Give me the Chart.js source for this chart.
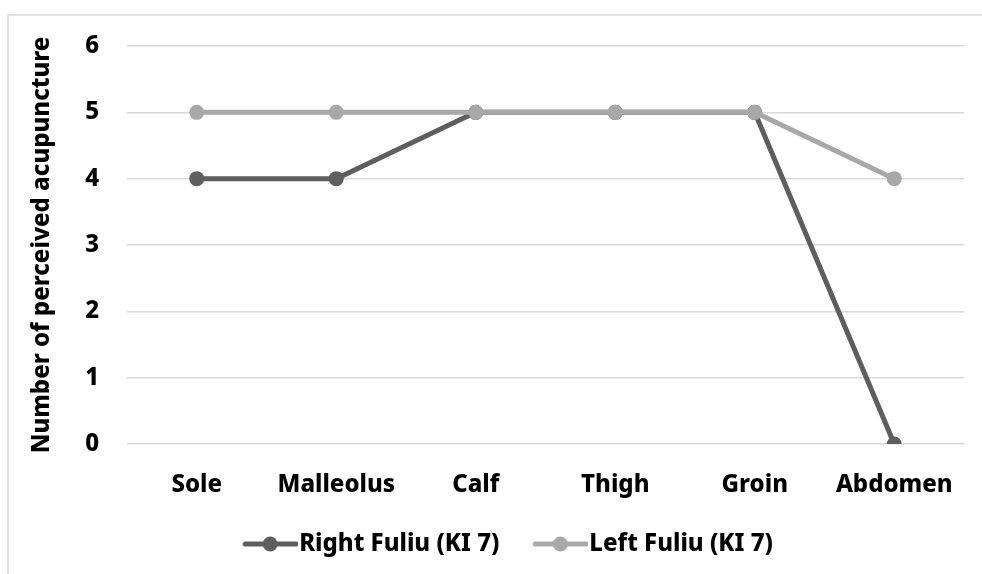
<!DOCTYPE html>
<html>
<head>
<meta charset="utf-8">
<script src="https://cdn.jsdelivr.net/npm/chart.js@4/dist/chart.umd.min.js"></script>
<style>
  html, body { margin: 0; padding: 0; background: #ffffff; }
  #wrap { width: 982px; height: 574px; }
</style>
</head>
<body>
<div id="wrap"><canvas id="c" width="982" height="574"></canvas></div>
<script>
// Body regions along the meridian
const sites = ['Sole', 'Malleolus', 'Calf', 'Thigh', 'Groin', 'Abdomen'];
// Perceived acupuncture points per site
const rightFuliu = [4, 4, 5, 5, 5, 0];
const leftFuliu = [5, 5, 5, 5, 5, 4];
const yTicks = [0, 1, 2, 3, 4, 5, 6];

const DARK = '#5e5e5e';
const LIGHT = '#a8a8a8';
const FONT = "'Noto Sans', 'Open Sans', sans-serif";
const FS = 24;
const FW = 800;

// Legend symbol: a short line with a dot in the middle, placed at the right of the image
function legendSymbol(color) {
  const cv = document.createElement('canvas');
  cv.width = 90; cv.height = 18;
  const g = cv.getContext('2d');
  g.strokeStyle = color;
  g.lineWidth = 5;
  g.lineCap = 'round';
  g.beginPath(); g.moveTo(37, 9); g.lineTo(88, 9); g.stroke();
  g.fillStyle = color;
  g.beginPath(); g.arc(62, 9, 7.5, 0, Math.PI * 2); g.fill();
  return cv;
}

const frame = {
  id: 'frame',
  beforeDraw(chart) {
    const ctx = chart.ctx;
    ctx.save();
    ctx.fillStyle = '#ffffff';
    ctx.fillRect(0, 0, chart.width, chart.height);
    ctx.strokeStyle = '#d9d9d9';
    ctx.lineWidth = 1.5;
    ctx.strokeRect(8, 15, 1200, 800);
    ctx.restore();
  }
};

new Chart(document.getElementById('c'), {
  type: 'line',
  data: {
    labels: sites,
    datasets: [
      {
        label: 'Right Fuliu (KI 7)',
        data: rightFuliu,
        borderColor: DARK,
        backgroundColor: DARK,
        borderWidth: 5,
        pointRadius: 7.5,
        pointBorderWidth: 0,
        pointBackgroundColor: DARK,
        order: 2,
        tension: 0
      },
      {
        label: 'Left Fuliu (KI 7)',
        data: leftFuliu,
        borderColor: LIGHT,
        backgroundColor: LIGHT,
        borderWidth: 5,
        pointRadius: 7.5,
        pointBorderWidth: 0,
        pointBackgroundColor: LIGHT,
        order: 1,
        tension: 0
      }
    ]
  },
  options: {
    responsive: false,
    animation: false,
    devicePixelRatio: 1,
    layout: { padding: { left: 28, right: 18, top: 46, bottom: 8 } },
    plugins: {
      tooltip: { enabled: false },
      legend: {
        position: 'bottom',
        labels: {
          color: '#000000',
          font: { family: FONT, size: FS, weight: FW },
          usePointStyle: true,
          pointStyleWidth: 68,
          boxHeight: 16,
          padding: 10,
          generateLabels(chart) {
            return chart.data.datasets.map((ds, i) => ({
              text: ds.label,
              fontColor: '#000000',
              pointStyle: legendSymbol(ds.borderColor),
              lineWidth: 0,
              strokeStyle: 'transparent',
              fillStyle: ds.borderColor,
              datasetIndex: i,
              hidden: false
            }));
          }
        }
      }
    },
    scales: {
      x: {
        offset: true,
        grid: { display: false, drawTicks: false },
        border: { display: false },
        afterFit(scale) { scale.height = 78; },
        ticks: {
          color: '#000000',
          padding: 27,
          font: { family: FONT, size: FS, weight: FW }
        }
      },
      y: {
        min: 0,
        max: 6,
        afterBuildTicks(scale) { scale.ticks = yTicks.map(v => ({ value: v })); },
        afterFit(scale) { scale.width = 99; },
        grid: { color: '#d9d9d9', lineWidth: 1.5, drawTicks: false },
        border: { display: false },
        ticks: {
          color: '#000000',
          padding: 28,
          font: { family: FONT, size: FS, weight: FW }
        },
        title: {
          display: true,
          text: 'Number of perceived acupuncture',
          color: '#000000',
          padding: { top: 0, bottom: 0 },
          font: { family: FONT, size: 24, weight: FW }
        }
      }
    }
  },
  plugins: [frame]
});
</script>
</body>
</html>
